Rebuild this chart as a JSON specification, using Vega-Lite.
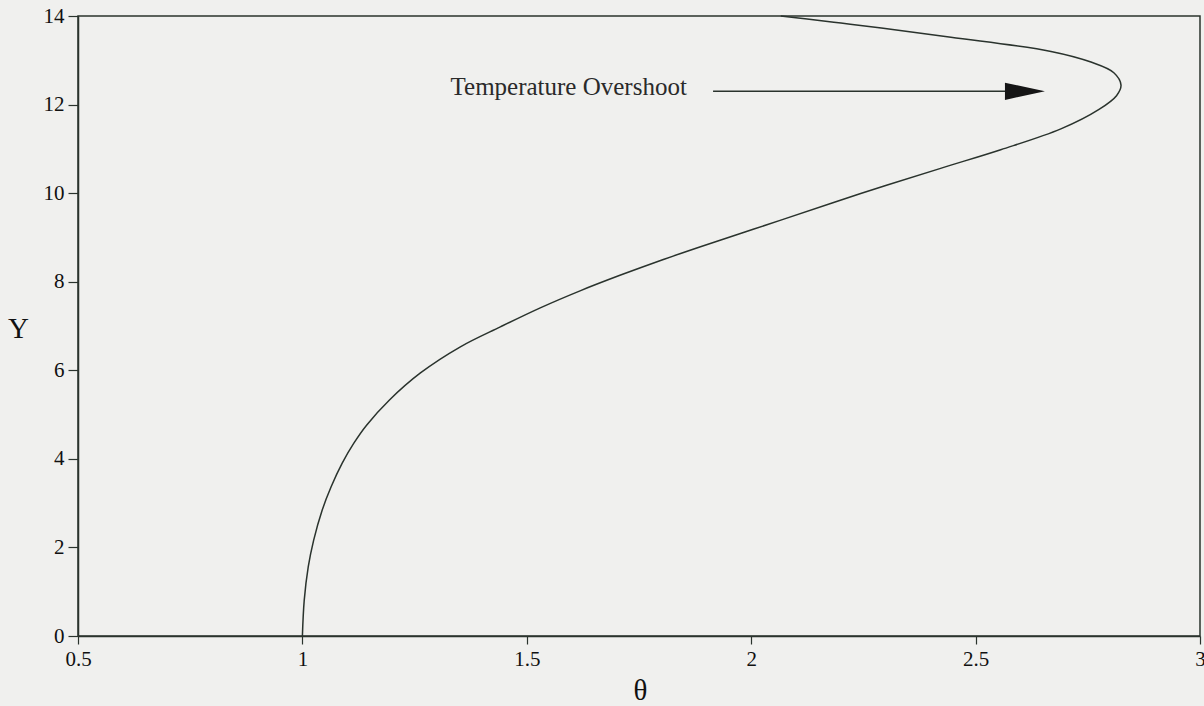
{
  "$schema": "https://vega.github.io/schema/vega-lite/v6.json",
  "autosize": "none",
  "width": 1122,
  "height": 620,
  "padding": {"left": 78, "top": 16, "right": 4, "bottom": 70},
  "background": "#f0f0ee",
  "config": {
    "view": {"stroke": "#2a332d", "strokeWidth": 1.5},
    "axis": {
      "grid": false,
      "domainColor": "#2a332d",
      "domainWidth": 1.5,
      "tickColor": "#2a332d",
      "tickWidth": 1.2,
      "labelFont": "Liberation Serif",
      "labelFontSize": 21,
      "labelColor": "#111111",
      "titleFont": "Liberation Serif",
      "titleFontWeight": "normal",
      "titleColor": "#111111",
      "titleFontSize": 29
    }
  },
  "datasets": {
    "curve": [
      {"i": 0, "theta": 1.0, "y": 0.0},
      {"i": 1, "theta": 1.004, "y": 0.8},
      {"i": 2, "theta": 1.013, "y": 1.56},
      {"i": 3, "theta": 1.025, "y": 2.16},
      {"i": 4, "theta": 1.044, "y": 2.84},
      {"i": 5, "theta": 1.064, "y": 3.37},
      {"i": 6, "theta": 1.089, "y": 3.91},
      {"i": 7, "theta": 1.115, "y": 4.36},
      {"i": 8, "theta": 1.143, "y": 4.76},
      {"i": 9, "theta": 1.194, "y": 5.33},
      {"i": 10, "theta": 1.263, "y": 5.94},
      {"i": 11, "theta": 1.352, "y": 6.53},
      {"i": 12, "theta": 1.441, "y": 6.98},
      {"i": 13, "theta": 1.53, "y": 7.41},
      {"i": 14, "theta": 1.62, "y": 7.8},
      {"i": 15, "theta": 1.709, "y": 8.15},
      {"i": 16, "theta": 1.798, "y": 8.48},
      {"i": 17, "theta": 1.887, "y": 8.79},
      {"i": 18, "theta": 1.976, "y": 9.09},
      {"i": 19, "theta": 2.066, "y": 9.39},
      {"i": 20, "theta": 2.244, "y": 9.99},
      {"i": 21, "theta": 2.422, "y": 10.56},
      {"i": 22, "theta": 2.556, "y": 10.98},
      {"i": 23, "theta": 2.69, "y": 11.45},
      {"i": 24, "theta": 2.775, "y": 11.89},
      {"i": 25, "theta": 2.814, "y": 12.2},
      {"i": 26, "theta": 2.824, "y": 12.44},
      {"i": 27, "theta": 2.808, "y": 12.72},
      {"i": 28, "theta": 2.757, "y": 12.96},
      {"i": 29, "theta": 2.668, "y": 13.2},
      {"i": 30, "theta": 2.445, "y": 13.52},
      {"i": 31, "theta": 2.29, "y": 13.73},
      {"i": 32, "theta": 2.2, "y": 13.84},
      {"i": 33, "theta": 2.12, "y": 13.94},
      {"i": 34, "theta": 2.066, "y": 14.0}
    ],
    "arrow": [
      {"x0": 1.915, "x1": 2.57, "head": 2.61, "y": 12.3}
    ],
    "label": [
      {"theta": 1.33, "y": 12.21, "text": "Temperature Overshoot"}
    ]
  },
  "layer": [
    {
      "data": {"name": "curve"},
      "mark": {"type": "line", "interpolate": "catmull-rom", "color": "#2a332d", "strokeWidth": 1.5},
      "encoding": {
        "x": {
          "field": "theta",
          "type": "quantitative",
          "scale": {"domain": [0.5, 3], "nice": false, "zero": false},
          "axis": {
            "values": [0.5, 1, 1.5, 2, 2.5, 3],
            "format": "~g",
            "labelFlush": false,
            "tickSize": 8,
            "labelPadding": 4,
            "title": "θ",
            "titleX": 562,
            "titleY": 63,
            "titleBaseline": "alphabetic"
          }
        },
        "y": {
          "field": "y",
          "type": "quantitative",
          "scale": {"domain": [0, 14], "nice": false},
          "axis": {
            "values": [0, 2, 4, 6, 8, 10, 12, 14],
            "format": "d",
            "tickSize": 10,
            "labelPadding": 4,
            "labelFlush": false,
            "title": "Y",
            "titleAngle": 0,
            "titleAlign": "center",
            "titleBaseline": "alphabetic",
            "titleX": -60,
            "titleY": 321
          }
        },
        "order": {"field": "i", "type": "quantitative"}
      }
    },
    {
      "data": {"name": "arrow"},
      "mark": {"type": "rule", "color": "#2a332d", "strokeWidth": 1.5},
      "encoding": {
        "x": {"field": "x0", "type": "quantitative"},
        "x2": {"field": "x1"},
        "y": {"field": "y", "type": "quantitative"}
      }
    },
    {
      "data": {"name": "arrow"},
      "mark": {"type": "point", "shape": "M-1,-0.43L1,0L-1,0.43Z", "filled": true, "color": "#151515", "opacity": 1, "size": 1600, "strokeWidth": 0},
      "encoding": {
        "x": {"field": "head", "type": "quantitative"},
        "y": {"field": "y", "type": "quantitative"}
      }
    },
    {
      "data": {"name": "label"},
      "mark": {"type": "text", "align": "left", "baseline": "alphabetic", "font": "Liberation Serif", "fontSize": 25, "color": "#2a2a2a"},
      "encoding": {
        "x": {"field": "theta", "type": "quantitative"},
        "y": {"field": "y", "type": "quantitative"},
        "text": {"field": "text"}
      }
    }
  ]
}
